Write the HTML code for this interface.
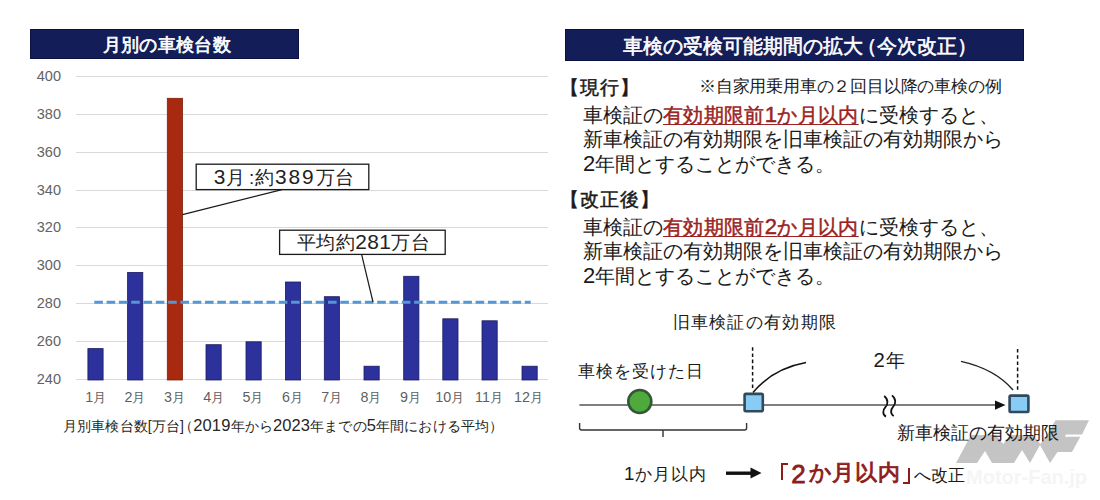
<!DOCTYPE html>
<html lang="ja">
<head>
<meta charset="utf-8">
<style>
html,body{margin:0;padding:0;background:#fff;}
body{width:1100px;height:500px;position:relative;overflow:hidden;font-family:"Liberation Sans",sans-serif;color:#1a1a1a;}
.t{position:absolute;white-space:nowrap;line-height:1;}
.d{font-size:1.1em;line-height:0;}
.red{letter-spacing:0.35px;color:#9a2222;-webkit-text-stroke:0.45px #9a2222;text-decoration:underline;text-decoration-thickness:1px;text-underline-offset:1.5px;}
.bar{position:absolute;background:#131d58;box-shadow:inset 0 0 0 0.8px #0a0f3c;}
svg{position:absolute;left:0;top:0;}
</style>
</head>
<body>
<!-- title bars -->
<div class="bar" style="left:30px;top:29px;width:269px;height:30px;"></div>
<div class="bar" style="left:565px;top:28.5px;width:459px;height:32.5px;"></div>
<div class="t" style="left:102.5px;top:35.5px;color:#fff;font-size:18px;letter-spacing:0.35px;-webkit-text-stroke:0.7px #fff;">月別の車検台数</div>
<div class="t" style="left:623px;top:35.5px;color:#fff;font-size:20px;-webkit-text-stroke:0.6px #fff;">車検の受検可能期間の拡大<span style="margin-left:-6px">（</span>今次改正<span style="letter-spacing:-6px">）</span></div>

<svg width="1100" height="500" viewBox="0 0 1100 500">
  <!-- grid -->
  <g stroke="#d9d9d9" stroke-width="1">
    <line x1="76" y1="76.5" x2="548" y2="76.5"/>
    <line x1="76" y1="114.5" x2="548" y2="114.5"/>
    <line x1="76" y1="152.5" x2="548" y2="152.5"/>
    <line x1="76" y1="190.5" x2="548" y2="190.5"/>
    <line x1="76" y1="227.5" x2="548" y2="227.5"/>
    <line x1="76" y1="265.5" x2="548" y2="265.5"/>
    <line x1="76" y1="303.5" x2="548" y2="303.5"/>
    <line x1="76" y1="341.5" x2="548" y2="341.5"/>
    <line x1="76" y1="379.5" x2="548" y2="379.5"/>
  </g>
  <!-- bars -->
  <g fill="#2d319b" stroke="#1b1d60" stroke-width="0.8">
    <rect x="87.9" y="348.6" width="15.2" height="31.4"/>
    <rect x="127.6" y="272.4" width="15.2" height="107.6"/>
    <rect x="206" y="344.7" width="15.2" height="35.3"/>
    <rect x="246" y="341.8" width="15.2" height="38.2"/>
    <rect x="285.4" y="282" width="15.2" height="98"/>
    <rect x="324.3" y="296.7" width="15.2" height="83.3"/>
    <rect x="364" y="366.2" width="15.2" height="13.8"/>
    <rect x="403.7" y="276.3" width="15.2" height="103.7"/>
    <rect x="442.8" y="318.8" width="15.2" height="61.2"/>
    <rect x="482" y="320.8" width="15.2" height="59.2"/>
    <rect x="522" y="366.2" width="15.2" height="13.8"/>
  </g>
  <rect x="167.3" y="98.3" width="15.2" height="281.7" fill="#a8290f" stroke="#7d1e0b" stroke-width="0.8"/>
  <!-- average dashed line -->
  <line x1="94.3" y1="302.3" x2="530.7" y2="302.3" stroke="#5696d2" stroke-width="3" stroke-dasharray="8.6 3.7"/>
  <!-- callouts -->
  <line x1="182.5" y1="214.6" x2="282" y2="189.6" stroke="#1a1a1a" stroke-width="1.2"/>
  <line x1="361.6" y1="254.4" x2="373" y2="302" stroke="#1a1a1a" stroke-width="1.2"/>
  <rect x="196.2" y="164.2" width="172.6" height="25.4" fill="#fff" stroke="#1a1a1a" stroke-width="1.3"/>
  <rect x="279.6" y="230.2" width="165.6" height="24.2" fill="#fff" stroke="#1a1a1a" stroke-width="1.3"/>

  <!-- timeline -->
  <line x1="579.4" y1="405" x2="998" y2="405" stroke="#555" stroke-width="1.6"/>
  <polygon points="995,400.4 1005.5,405 995,409.8" fill="#111"/>
  <circle cx="639.8" cy="401.5" r="11.5" fill="#4eaa3b" stroke="#34573a" stroke-width="2.6"/>
  <rect x="744.6" y="393.9" width="18.2" height="17.3" rx="1.2" fill="#88ccf6" stroke="#30495d" stroke-width="2.6"/>
  <rect x="1009.6" y="395.6" width="18.8" height="16.4" rx="1.2" fill="#88ccf6" stroke="#30495d" stroke-width="2.6"/>
  <line x1="752.6" y1="347.2" x2="752.6" y2="389" stroke="#111" stroke-width="1.5" stroke-dasharray="3.6 2.6"/>
  <line x1="1017.6" y1="349" x2="1017.6" y2="391" stroke="#111" stroke-width="1.5" stroke-dasharray="3.6 2.6"/>
  <path d="M753,392.5 C765,378 782,367 806,362.6" fill="none" stroke="#111" stroke-width="1.5"/>
  <path d="M961,361.4 Q995,369 1013,390" fill="none" stroke="#222" stroke-width="1.4"/>
  <!-- wave break -->
  <path d="M884.2,396 C888.6,399.5 888,404.5 885.4,407.2 C882.8,410 882.2,414.5 886,416.6" fill="none" stroke="#111" stroke-width="1.8"/>
  <path d="M892,395.4 C896.4,398.9 895.8,403.9 893.2,406.6 C890.6,409.4 890,413.9 893.8,416" fill="none" stroke="#111" stroke-width="1.8"/>
  <!-- bracket -->
  <path d="M579.6,423 v5 q0,2 2,2 h163 q2,0 2,-2 v-5 M663,430 v7" fill="none" stroke="#333" stroke-width="1.4"/>
  <!-- arrow -->
  <line x1="726" y1="473.2" x2="752" y2="473.2" stroke="#111" stroke-width="3.4"/>
  <polygon points="750.5,467.4 761.5,473 750.5,478.6" fill="#111"/>
</svg>

<!-- y axis labels -->
<div class="t" style="left:30px;top:68.8px;width:31px;text-align:right;font-size:14.5px;color:#636363;">400</div>
<div class="t" style="left:30px;top:106.8px;width:31px;text-align:right;font-size:14.5px;color:#636363;">380</div>
<div class="t" style="left:30px;top:144.8px;width:31px;text-align:right;font-size:14.5px;color:#636363;">360</div>
<div class="t" style="left:30px;top:182.8px;width:31px;text-align:right;font-size:14.5px;color:#636363;">340</div>
<div class="t" style="left:30px;top:219.8px;width:31px;text-align:right;font-size:14.5px;color:#636363;">320</div>
<div class="t" style="left:30px;top:257.8px;width:31px;text-align:right;font-size:14.5px;color:#636363;">300</div>
<div class="t" style="left:30px;top:295.8px;width:31px;text-align:right;font-size:14.5px;color:#636363;">280</div>
<div class="t" style="left:30px;top:333.8px;width:31px;text-align:right;font-size:14.5px;color:#636363;">260</div>
<div class="t" style="left:30px;top:371.8px;width:31px;text-align:right;font-size:14.5px;color:#636363;">240</div>

<!-- category labels -->
<div class="t" style="left:75.7px;top:390.5px;width:40px;text-align:center;font-size:13px;color:#5f5f5f;"><span class="d">1</span>月</div>
<div class="t" style="left:115px;top:390.5px;width:40px;text-align:center;font-size:13px;color:#5f5f5f;"><span class="d">2</span>月</div>
<div class="t" style="left:154.4px;top:390.5px;width:40px;text-align:center;font-size:13px;color:#5f5f5f;"><span class="d">3</span>月</div>
<div class="t" style="left:193.7px;top:390.5px;width:40px;text-align:center;font-size:13px;color:#5f5f5f;"><span class="d">4</span>月</div>
<div class="t" style="left:233px;top:390.5px;width:40px;text-align:center;font-size:13px;color:#5f5f5f;"><span class="d">5</span>月</div>
<div class="t" style="left:272.4px;top:390.5px;width:40px;text-align:center;font-size:13px;color:#5f5f5f;"><span class="d">6</span>月</div>
<div class="t" style="left:311.7px;top:390.5px;width:40px;text-align:center;font-size:13px;color:#5f5f5f;"><span class="d">7</span>月</div>
<div class="t" style="left:351px;top:390.5px;width:40px;text-align:center;font-size:13px;color:#5f5f5f;"><span class="d">8</span>月</div>
<div class="t" style="left:390.4px;top:390.5px;width:40px;text-align:center;font-size:13px;color:#5f5f5f;"><span class="d">9</span>月</div>
<div class="t" style="left:429.7px;top:390.5px;width:40px;text-align:center;font-size:13px;color:#5f5f5f;"><span class="d">10</span>月</div>
<div class="t" style="left:469px;top:390.5px;width:40px;text-align:center;font-size:13px;color:#5f5f5f;"><span class="d">11</span>月</div>
<div class="t" style="left:508.4px;top:390.5px;width:40px;text-align:center;font-size:13px;color:#5f5f5f;"><span class="d">12</span>月</div>

<div class="t" style="left:63px;top:419px;font-size:14px;letter-spacing:0.13px;color:#262626;">月別車検台数[万台]<span style="margin-left:-5px">（</span><span class="d" style="font-size:1.18em">2019</span>年から<span class="d" style="font-size:1.18em">2023</span>年までの<span class="d" style="font-size:1.18em">5</span>年間における平均<span style="letter-spacing:-5px">）</span></div>

<!-- callout text -->
<div class="t" style="left:198px;top:168px;width:173px;text-align:center;font-size:19px;letter-spacing:0.8px;color:#222;"><span class="d">3</span>月 <span style="margin-left:-3px">:</span>約<span class="d" style="letter-spacing:1.9px">389</span>万台</div>
<div class="t" style="left:280.5px;top:233px;width:166px;text-align:center;font-size:19px;letter-spacing:0.4px;color:#222;">平均約<span class="d">281</span>万台</div>

<!-- right text -->
<div class="t" style="left:560px;top:78px;font-size:19px;letter-spacing:1px;-webkit-text-stroke:0.5px #1a1a1a;color:#1a1a1a;">【現行】</div>
<div class="t" style="left:699px;top:77.5px;font-size:17px;letter-spacing:-0.2px;color:#1a1a1a;">※自家用乗用車の２回目以降の車検の例</div>
<div class="t" style="left:583px;top:105.2px;font-size:20px;color:#1a1a1a;">車検証の<span class="red">有効期限前<span class="d">1</span>か月以内</span>に受検すると、</div>
<div class="t" style="left:583px;top:129.2px;font-size:20px;color:#1a1a1a;">新車検証の有効期限を旧車検証の有効期限から</div>
<div class="t" style="left:583px;top:154.2px;font-size:20px;color:#1a1a1a;"><span class="d">2</span>年間とすることができる。</div>

<div class="t" style="left:560px;top:190px;font-size:19px;letter-spacing:1px;-webkit-text-stroke:0.5px #1a1a1a;color:#1a1a1a;">【改正後】</div>
<div class="t" style="left:583px;top:216.5px;font-size:20px;color:#1a1a1a;">車検証の<span class="red">有効期限前<span class="d">2</span>か月以内</span>に受検すると、</div>
<div class="t" style="left:583px;top:241.2px;font-size:20px;color:#1a1a1a;">新車検証の有効期限を旧車検証の有効期限から</div>
<div class="t" style="left:583px;top:266.2px;font-size:20px;color:#1a1a1a;"><span class="d">2</span>年間とすることができる。</div>

<!-- diagram text -->
<div class="t" style="left:672.5px;top:314px;font-size:17px;letter-spacing:1.3px;color:#1a1a1a;">旧車検証の有効期限</div>
<div class="t" style="left:577.5px;top:363px;font-size:17px;letter-spacing:1px;color:#1a1a1a;">車検を受けた日</div>
<div class="t" style="left:873.5px;top:351.5px;font-size:18.5px;letter-spacing:1.5px;color:#1a1a1a;"><span class="d">2</span>年</div>

<!-- watermark -->
<svg width="1100" height="500" viewBox="0 0 1100 500">
  <polygon fill="#c4c4c4" points="956,463 971,435 996,435 1003.2,444 1010,435 1033,435 1040.3,444 1047,435 1055.5,420.3 1089,420.3 1082,434.5 1066,434.5 1065,436.7 1080.3,436.7 1072,452 1057.5,452 1050,463 1040,445 1030,463 1022,450 1014,463 992,463 985,451 977,463"/>
</svg>
<div class="t" style="left:966px;top:467.3px;font-size:20px;font-weight:bold;color:#f5f5f5;">Motor-Fan.jp</div>

<div class="t" style="left:897px;top:424px;font-size:18px;color:#1a1a1a;">新車検証の有効期限</div>
<div class="t" style="left:624px;top:466px;font-size:17px;letter-spacing:1px;color:#1a1a1a;"><span class="d">1</span>か月以内</div>
<div style="position:absolute;left:781.4px;top:463px;width:4.4px;height:14.8px;border-left:2.4px solid #8e1c1c;border-top:2.4px solid #8e1c1c;"></div>
<div class="t" style="left:791.2px;top:461.2px;font-size:26px;color:#8e1c1c;-webkit-text-stroke:0.8px #8e1c1c;">2</div>
<div class="t" style="left:808.6px;top:462.2px;font-size:22px;letter-spacing:0.9px;color:#8e1c1c;-webkit-text-stroke:0.9px #8e1c1c;">か月以内</div>
<div style="position:absolute;left:902.8px;top:468.2px;width:5.6px;height:14px;border-right:2.4px solid #8e1c1c;border-bottom:2.4px solid #8e1c1c;"></div>
<div class="t" style="left:914px;top:467px;font-size:17px;color:#1a1a1a;">へ改正</div>
</body>
</html>
